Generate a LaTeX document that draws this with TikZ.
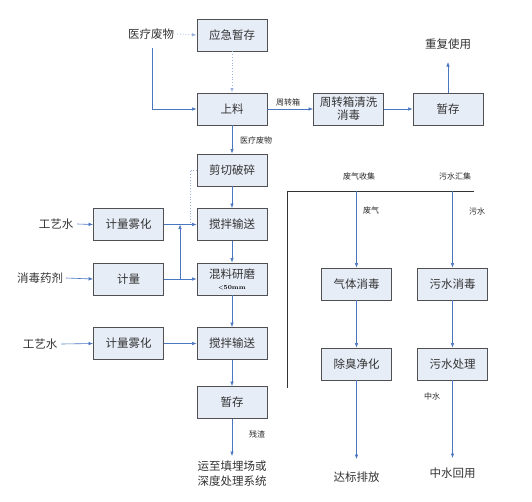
\documentclass[tikz,border=0pt]{standalone}
\usepackage{fontspec}
\newfontfamily\cjk{Noto Sans CJK SC}
\usetikzlibrary{arrows.meta}
\definecolor{boxfill}{HTML}{E7EDF7}
\definecolor{boxdraw}{HTML}{505050}
\definecolor{arr}{HTML}{4A76C0}
\definecolor{dotc}{HTML}{9DB3DC}
\tikzset{
  pbox/.style={draw=boxdraw, fill=boxfill, line width=0.9pt, minimum width=70pt, minimum height=32pt, inner sep=0pt, font=\cjk\fontsize{11.5}{13}\selectfont, align=center, text=black!80},
  txt/.style={inner sep=0pt, font=\cjk\fontsize{11.5}{15}\selectfont, align=center, text=black!80},
  lbl/.style={inner sep=0pt, font=\cjk\fontsize{8}{9}\selectfont, text=black!85},
  arw/.style={draw=arr, line width=0.6pt, -{Latex[length=4.5pt,width=3.5pt]}},
  dotarw/.style={draw=dotc, line width=0.8pt, dotted, -{Latex[length=4.5pt,width=3.5pt]}},
  dotln/.style={draw=dotc, line width=0.8pt, dotted},
}
\begin{document}
\begin{tikzpicture}[x=1pt,y=-1pt]
\useasboundingbox (0,0) rectangle (532,501);
% left column boxes
\node[pbox] (yj) at (232,35) {应急暂存};
\node[pbox] (sl) at (232,109) {上料};
\node[pbox] (jq) at (232,170) {剪切破碎};
\node[pbox] (jb1) at (232,224.5) {搅拌输送};
\node[pbox] (hl) at (232,279) {};
\node[txt] at (232,274) {混料研磨};
\node[inner sep=0pt, font=\fontsize{6}{7}\selectfont\bfseries] at (232,288) {<50mm};
\node[pbox] (jb2) at (232,343.5) {搅拌输送};
\node[pbox] (zc2) at (232,402.5) {暂存};
\node[pbox] (wh1) at (128.5,224.5) {计量雾化};
\node[pbox] (jl) at (128.5,279) {计量};
\node[pbox] (wh2) at (128.5,343.5) {计量雾化};
% top right boxes
\node[pbox] (qx) at (348.5,109) {周转箱清洗\\消毒};
\node[pbox] (zc1) at (448,109) {暂存};
% right boxes
\node[pbox] (qt) at (356.5,284) {气体消毒};
\node[pbox] (ws) at (452.5,284) {污水消毒};
\node[pbox] (cc) at (356.5,364) {除臭净化};
\node[pbox] (wc) at (452.5,364) {污水处理};
% free texts
\node[txt] (yl) at (151,34) {医疗废物};
\node[txt] (cf) at (448,44) {重复使用};
\node[txt] (gy1) at (56,224) {工艺水};
\node[txt] (xd) at (40,278) {消毒药剂};
\node[txt] (gy2) at (40,344) {工艺水};
\node[txt] (yz) at (232,474) {运至填埋场或\\深度处理系统};
\node[txt] (db) at (356.5,477) {达标排放};
\node[txt] (zh) at (452.5,473) {中水回用};
\node[lbl] (fqs) at (359,176) {废气收集};
\node[lbl] (wsh) at (455,176) {污水汇集};
% labels
\node[lbl, anchor=west] at (240,140) {医疗废物};
\node[lbl] at (288,102) {周转箱};
\node[lbl] at (371,210) {废气};
\node[lbl] at (477,211) {污水};
\node[lbl] at (432,396) {中水};
\node[lbl] at (257,434) {残渣};
% coordinates
\coordinate (c1) at (152,48);
\coordinate (c2) at (152,109);
\coordinate (d1) at (197,170);
\coordinate (d2) at (190,170);
\coordinate (d3) at (190,224.5);
\coordinate (m1) at (180,279);
\coordinate (m2) at (180,224.5);
\coordinate (up) at (448,62);
\coordinate (h1) at (287,191);
\coordinate (h2) at (474,191);
\coordinate (h3) at (287,388);
\coordinate (q0) at (356.5,191);
\coordinate (w0) at (452.5,191);
\coordinate (ye) at (232,456);
\coordinate (de) at (356.5,459);
\coordinate (ze) at (452.5,458);
% connectors
\draw[dotarw] (yl.east) ++(3,0) -- (yj.west);
\draw[dotarw] (yj.south) -- (sl.north);
\draw[arw] (c1) -- (c2) -- (sl.west);
\draw[arw] (sl.south) -- (jq.north);
\draw[arw] (sl.east) -- (qx.west);
\draw[arw] (qx.east) -- (zc1.west);
\draw[arw] (zc1.north) -- (up);
\draw[arw] (jq.south) -- (jb1.north);
\draw[arw] (jb1.south) -- (hl.north);
\draw[arw] (hl.south) -- (jb2.north);
\draw[arw] (jb2.south) -- (zc2.north);
\draw[arw] (zc2.south) -- (ye);
\draw[dotln] (d1) -- (d2) -- (d3);
\draw[arw] (wh1.east) -- (jb1.west);
\draw[arw] (jl.east) -- (hl.west);
\draw[arw] (m1) -- (m2);
\draw[arw] (gy1.east) ++(4,0) -- (wh1.west);
\draw[arw] (xd.east) ++(3,0) -- (jl.west);
\draw[arw] (gy2.east) ++(4,0) -- (wh2.west);
\draw[arw] (wh2.east) -- (jb2.west);
\draw[line width=0.8pt, draw=black!80] (h2) -- (h1) -- (h3);
\draw[arw] (q0) -- (qt.north);
\draw[arw] (w0) -- (ws.north);
\draw[arw] (qt.south) -- (cc.north);
\draw[arw] (ws.south) -- (wc.north);
\draw[arw] (cc.south) -- (de);
\draw[arw] (wc.south) -- (ze);
\end{tikzpicture}
\end{document}
